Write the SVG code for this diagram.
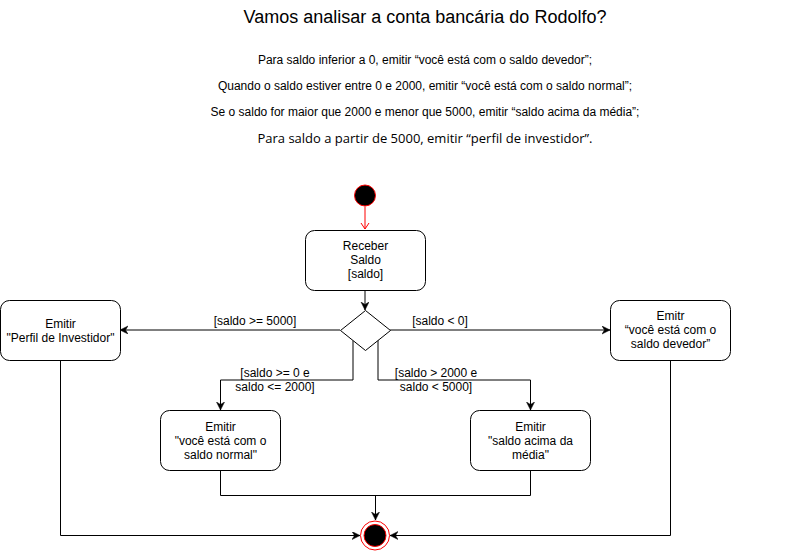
<svg xmlns="http://www.w3.org/2000/svg" width="812" height="552" viewBox="0 0 812 552">
<defs>
<style>
.t{font-family:"Liberation Sans",Arial,sans-serif;font-size:12px;fill:#000;text-anchor:middle}
.ts{font-family:"Liberation Sans",Arial,sans-serif;font-size:12px;fill:#000;text-anchor:middle}
.box{fill:#fff;stroke:#000;stroke-width:1}
.e{fill:none;stroke:#000;stroke-width:1}
</style>
<marker id="ar" markerWidth="10" markerHeight="10" refX="8" refY="4" orient="auto" markerUnits="userSpaceOnUse">
<path d="M0,0 L8,4 L0,8 L2.5,4 z" fill="#000" stroke="#000" stroke-width="0.5"/>
</marker>
<marker id="ov" markerWidth="12" markerHeight="12" refX="6" refY="6" orient="auto" markerUnits="userSpaceOnUse">
<path d="M0,2 L6,6 L0,10" fill="none" stroke="#ff0000" stroke-width="1"/>
</marker>
</defs>
<rect width="812" height="552" fill="#fff"/>
<g id="title">
<text x="425" y="23" style="font-family:'Liberation Sans',Arial,sans-serif;font-size:18px;text-anchor:middle;fill:#000">Vamos analisar a conta bancária do Rodolfo?</text>
<text x="425" y="64" class="ts">Para saldo inferior a 0, emitir “você está com o saldo devedor”;</text>
<text x="425" y="90" class="ts">Quando o saldo estiver entre 0 e 2000, emitir “você está com o saldo normal”;</text>
<text x="425" y="116" class="ts">Se o saldo for maior que 2000 e menor que 5000, emitir “saldo acima da média”;</text>
<text x="425" y="143" style="font-family:'Open Sans','Noto Sans',sans-serif;font-size:13px;text-anchor:middle;fill:#000">Para saldo a partir de 5000, emitir “perfil de investidor”.</text>
</g>
<g id="connectors">
<path d="M365,206.5 L365,229" fill="none" stroke="#ff0000" marker-end="url(#ov)"/>
<path class="e" d="M365,290 L365,310" marker-end="url(#ar)"/>
<path class="e" d="M340,330 L120,330" marker-end="url(#ar)"/>
<path class="e" d="M390,330 L610,330" marker-end="url(#ar)"/>
<path class="e" d="M353,340.5 L353,380 L220.5,380 L220.5,410" marker-end="url(#ar)"/>
<path class="e" d="M378,339.5 L378,380 L530.5,380 L530.5,410" marker-end="url(#ar)"/>
<path class="e" d="M220.5,470 L220.5,495.5 L530.5,495.5 L530.5,470"/>
<path class="e" d="M375.5,495.5 L375.5,520" marker-end="url(#ar)"/>
<path class="e" d="M60.5,360 L60.5,535.5 L360,535.5" marker-end="url(#ar)"/>
<path class="e" d="M670.5,360 L670.5,535.5 L390,535.5" marker-end="url(#ar)"/>
<text x="255" y="325" class="t">[saldo &gt;= 5000]</text>
<text x="440" y="325" class="t">[saldo &lt; 0]</text>
<text x="275" y="377" class="t">[saldo &gt;= 0 e</text>
<text x="275" y="391" class="t">saldo &lt;= 2000]</text>
<text x="436" y="377" class="t">[saldo &gt; 2000 e</text>
<text x="436" y="391" class="t">saldo &lt; 5000]</text>
</g>
<g id="start">
<circle cx="365" cy="195.5" r="10.5" fill="#000" stroke="#ff0000" stroke-width="1"/>
</g>
<g id="receber">
<rect class="box" x="305.5" y="230.5" width="120" height="60" rx="9"/>
<text x="365.5" y="250" class="t">Receber</text>
<text x="365.5" y="264" class="t">Saldo</text>
<text x="365.5" y="278" class="t">[saldo]</text>
</g>
<g id="decision">
<path class="box" d="M365.5,310.5 L390.5,330.5 L365.5,350.5 L340.5,330.5 z"/>
</g>
<g id="perfil">
<rect class="box" x="0.5" y="300.5" width="120" height="60" rx="9"/>
<text x="60.5" y="328" class="t">Emitir</text>
<text x="60.5" y="342" class="t">"Perfil de Investidor"</text>
</g>
<g id="devedor">
<rect class="box" x="610.5" y="300.5" width="120" height="60" rx="9"/>
<text x="670.5" y="320" class="t">Emitr</text>
<text x="670.5" y="334" class="t">“você está com o</text>
<text x="670.5" y="348" class="t">saldo devedor”</text>
</g>
<g id="normal">
<rect class="box" x="160.5" y="410.5" width="120" height="60" rx="9"/>
<text x="220.5" y="431" class="t">Emitir</text>
<text x="220.5" y="445" class="t">"você está com o</text>
<text x="220.5" y="459" class="t">saldo normal"</text>
</g>
<g id="media">
<rect class="box" x="470.5" y="410.5" width="120" height="60" rx="9"/>
<text x="530.5" y="431" class="t">Emitir</text>
<text x="530.5" y="445" class="t">"saldo acima da</text>
<text x="530.5" y="459" class="t">média"</text>
</g>
<g id="end">
<circle cx="375" cy="535.5" r="14.5" fill="#fff" stroke="#ff0000" stroke-width="1"/>
<circle cx="375" cy="535.5" r="11" fill="#000" stroke="#ff0000" stroke-width="1"/>
</g>
</svg>
